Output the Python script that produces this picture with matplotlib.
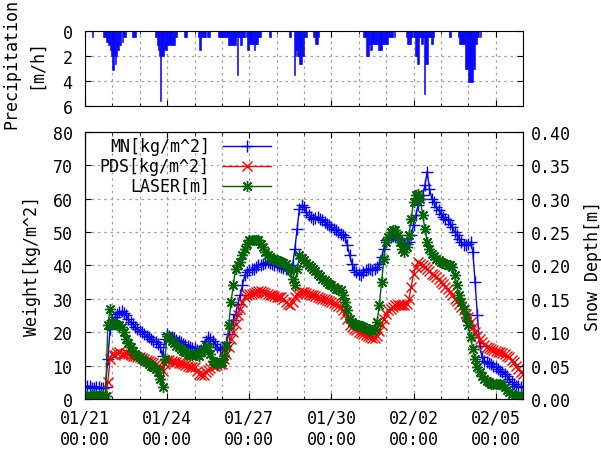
import numpy as np
import pandas as pd
import matplotlib
matplotlib.use('Agg')
import matplotlib.pyplot as plt
import matplotlib.dates as mdates
from matplotlib.lines import Line2D

plt.rcParams['font.family'] = ['DejaVu Sans Mono']
plt.rcParams['font.size'] = 11

# ---------------- data (2-hourly samples) ----------------
start = pd.Timestamp('2014-01-21 00:00')
times = pd.date_range(start, periods=193, freq='2h')

mn = [3.5, 3.9, 3.8, 3.3, 3.2, 3.7, 3.6, 3.2, 3.4, 3.6, 12.0, 21.0,
      23.5, 24.5, 25.5, 26.0, 26.3, 25.8, 25.0, 24.0, 23.0, 22.3, 21.5, 21.0,
      20.5, 20.0, 19.5, 19.0, 18.5, 18.0, 17.5, 17.0, 16.5, 15.5, 13.0, 18.0,
      19.5, 19.0, 18.5, 18.2, 17.8, 17.4, 17.0, 16.6, 16.2, 15.8, 15.5, 15.4,
      15.3, 14.8, 14.5, 14.8, 16.0, 17.5, 18.5, 18.0, 17.5, 16.5, 15.5, 15.0,
      14.8, 15.5, 17.0, 19.5, 22.0, 23.5, 25.5, 28.5, 31.0, 34.0, 37.0, 38.0,
      38.5, 38.8, 39.0, 39.5, 40.0, 40.2, 40.5, 40.8, 41.0, 40.8, 40.5, 40.2,
      40.0, 39.8, 39.5, 39.2, 39.0, 38.8, 38.5, 40.0, 45.0, 51.0, 57.0, 58.0,
      57.5, 56.0, 55.0, 54.5, 54.0, 54.3, 54.5, 54.0, 53.5, 53.0, 52.5, 52.0,
      51.5, 51.0, 50.5, 50.0, 49.5, 49.0, 48.5, 46.0, 43.0, 40.5, 38.5, 38.0,
      37.5, 37.0, 38.0, 38.5, 39.0, 38.8, 38.5, 39.0, 39.5, 40.5, 42.5, 45.0,
      47.5, 48.0, 48.5, 48.8, 48.8, 48.2, 47.5, 47.0, 46.5, 46.3, 47.0, 49.0,
      52.0, 55.0, 58.0, 60.0, 61.0, 64.0, 68.0, 63.0, 60.0, 59.0, 57.5, 56.5,
      55.5, 54.5, 54.0, 53.5, 52.5, 51.5, 50.0, 49.0, 48.0, 47.0, 46.0, 46.0,
      46.5, 47.0, 44.0, 35.0, 25.0, 16.0, 12.5, 11.5, 11.0, 10.8, 10.5, 10.0,
      9.5, 9.0, 8.5, 8.0, 7.5, 7.0, 6.0, 5.0, 4.5, 4.0, 3.8, 3.5,
      3.5]

pds = [0.3, 0.2, 0.4, 0.1, 0.3, 0.2, 0.4, 0.3, 0.3, 0.5, 5.0, 12.0,
       13.5, 13.2, 13.8, 14.0, 13.5, 13.6, 13.8, 13.5, 13.2, 13.0, 12.8, 12.6,
       12.5, 12.2, 12.0, 11.8, 11.5, 11.2, 10.8, 10.4, 10.0, 9.5, 8.5, 10.5,
       11.8, 11.7, 11.5, 11.2, 11.0, 10.9, 10.8, 10.5, 10.2, 9.8, 9.5, 9.5,
       9.5, 8.5, 7.5, 7.2, 7.2, 8.0, 8.8, 9.3, 9.8, 10.0, 10.3, 10.4,
       10.5, 12.0, 13.5, 15.5, 18.0, 20.0, 22.5, 25.0, 27.0, 29.0, 30.5, 31.0,
       31.3, 31.5, 31.8, 32.0, 32.3, 32.2, 32.0, 31.8, 31.5, 31.2, 31.0, 30.8,
       30.5, 30.5, 30.5, 30.0, 29.0, 28.5, 28.0, 29.0, 30.5, 31.5, 32.0, 32.0,
       32.0, 31.8, 31.5, 31.2, 31.0, 30.8, 30.5, 30.2, 30.0, 29.8, 29.5, 29.2,
       29.0, 28.6, 28.3, 27.9, 27.5, 26.5, 25.5, 24.0, 22.0, 21.5, 21.0, 20.6,
       20.2, 19.8, 19.5, 19.2, 18.8, 18.5, 18.3, 18.3, 19.0, 20.5, 22.0, 24.0,
       25.5, 26.5, 27.0, 27.5, 28.0, 28.0, 28.0, 28.0, 28.0, 28.5, 30.0, 33.5,
       37.5, 39.5, 41.0, 40.5, 40.0, 39.5, 39.0, 38.3, 37.5, 37.0, 36.5, 35.8,
       35.0, 34.3, 33.5, 32.8, 32.0, 31.0, 30.0, 29.3, 28.5, 27.5, 26.5, 25.5,
       24.5, 23.0, 21.5, 20.2, 19.0, 18.0, 17.0, 16.2, 15.5, 15.2, 15.0, 14.8,
       14.5, 14.2, 14.0, 13.8, 13.5, 13.0, 12.5, 11.8, 11.0, 10.0, 9.0, 8.2,
       7.5]

laser = [0.005, 0.004, 0.005, 0.0045, 0.0055, 0.0045, 0.005, 0.004, 0.0055, 0.005, 0.110, 0.135,
         0.115, 0.1125, 0.110, 0.110, 0.1075, 0.100, 0.090, 0.084, 0.0775, 0.0725, 0.0675, 0.065,
         0.0625, 0.060, 0.0575, 0.055, 0.0525, 0.050, 0.0475, 0.045, 0.040, 0.030, 0.018, 0.060,
         0.095, 0.091, 0.0875, 0.084, 0.080, 0.0775, 0.075, 0.0725, 0.070, 0.068, 0.066, 0.0665,
         0.0675, 0.0665, 0.065, 0.070, 0.075, 0.080, 0.0775, 0.0675, 0.0575, 0.055, 0.0525, 0.0535,
         0.055, 0.065, 0.080, 0.110, 0.145, 0.170, 0.195, 0.200, 0.205, 0.215, 0.225, 0.2325,
         0.2375, 0.2375, 0.2375, 0.2375, 0.2375, 0.2325, 0.2275, 0.220, 0.215, 0.2125, 0.210, 0.209,
         0.2075, 0.206, 0.205, 0.204, 0.2025, 0.1975, 0.1925, 0.180, 0.170, 0.195, 0.215, 0.2115,
         0.2075, 0.204, 0.200, 0.1975, 0.195, 0.1915, 0.1875, 0.184, 0.180, 0.1775, 0.175, 0.1725,
         0.170, 0.1675, 0.165, 0.164, 0.1625, 0.155, 0.145, 0.1325, 0.120, 0.115, 0.1125, 0.111,
         0.110, 0.109, 0.1075, 0.106, 0.105, 0.104, 0.1025, 0.105, 0.115, 0.140, 0.175, 0.210,
         0.235, 0.2425, 0.250, 0.2525, 0.2525, 0.245, 0.235, 0.225, 0.220, 0.2275, 0.245, 0.270,
         0.295, 0.305, 0.3075, 0.300, 0.275, 0.255, 0.235, 0.225, 0.2175, 0.214, 0.210, 0.2075,
         0.205, 0.204, 0.2025, 0.201, 0.200, 0.1975, 0.185, 0.170, 0.155, 0.145, 0.135, 0.1225,
         0.110, 0.0925, 0.075, 0.060, 0.0475, 0.040, 0.035, 0.030, 0.027, 0.025, 0.023, 0.022,
         0.022, 0.022, 0.022, 0.021, 0.018, 0.014, 0.010, 0.0075, 0.005, 0.0045, 0.004, 0.004,
         0.004]

precip_hours = [6,
                16, 17, 18, 19, 20, 21, 22, 23, 24, 25, 26, 27, 28, 29, 30, 31, 32, 33, 34, 35,
                41, 42, 43, 44,
                61, 62, 63, 64, 65, 66, 67, 68, 69, 70, 71, 72, 73, 74, 75, 76, 77, 78, 79, 80,
                87, 88,
                99, 100, 101, 102, 103, 104, 105,
                107, 108, 109,
                117, 118, 119, 120, 121, 122, 123, 124, 125, 126, 127, 128, 129, 130, 131,
                132, 133, 134, 135, 136, 137, 138, 139,
                141, 142, 143, 144, 145, 146, 147, 148, 149, 150, 151, 152, 153,
                161, 162,
                179, 180,
                183, 184, 185, 186, 187, 188, 189, 190, 191, 192, 193, 194,
                200, 201, 202, 203, 204,
                244, 245, 246, 247, 248, 249, 250, 251, 252, 253, 254, 255, 256, 257, 258,
                259, 260, 261, 262, 263, 264, 265, 266, 267, 268, 269, 271,
                281, 282, 283, 284, 285, 286, 287, 288, 289, 290, 291, 292, 293, 294, 295,
                296, 297, 298, 299, 300, 301, 302, 303, 304, 305,
                319, 320,
                327, 328, 329, 330, 331, 332, 333, 334, 335, 336, 337, 338, 339, 340, 341,
                342, 343, 344, 346]
precip_vals = [0.5,
               0.5, 0.5, 0.9, 0.9, 1.1, 1.1, 1.5, 2.0, 3.1, 2.0, 2.6, 2.0, 1.5, 1.5, 1.1, 1.1, 0.9, 0.5, 0.5, 0.5,
               0.5, 0.5, 0.5, 0.5,
               0.5, 0.5, 1.1, 1.5, 2.0, 5.6, 2.0, 2.0, 1.5, 1.5, 1.5, 1.1, 1.1, 1.1, 1.1, 1.1, 1.1, 1.1, 0.5, 0.5,
               0.5, 0.5,
               0.5, 1.5, 1.5, 0.5, 0.5, 0.5, 0.5,
               0.5, 0.5, 0.5,
               0.5, 0.5, 0.5, 0.5, 0.5, 0.5, 0.5, 0.5, 1.1, 1.1, 1.1, 1.1, 1.1, 1.1, 1.1,
               0.5, 3.5, 0.5, 0.5, 1.1, 1.1, 0.5, 0.5,
               0.5, 1.5, 1.5, 1.0, 1.0, 1.0, 1.0, 1.5, 1.0, 1.0, 1.0, 0.5, 0.5,
               0.5, 0.5,
               0.5, 0.5,
               3.5, 2.0, 1.5, 2.0, 2.0, 2.6, 2.6, 2.0, 2.0, 0.5, 0.5, 0.5,
               0.5, 0.5, 1.0, 1.0, 0.5,
               0.5, 0.5, 2.0, 2.0, 2.0, 1.0, 1.5, 1.5, 1.0, 1.0, 1.0, 1.0, 1.0, 1.5, 1.5,
               1.5, 1.0, 1.0, 1.0, 1.0, 1.0, 1.0, 0.5, 0.5, 0.5, 0.5, 0.5,
               0.5, 1.0, 1.0, 1.0, 1.0, 0.5, 0.5, 0.5, 2.0, 2.0, 2.6, 2.6, 0.5, 0.5, 1.0,
               0.5, 5.0, 2.6, 2.6, 2.6, 0.5, 0.5, 1.0, 1.0, 0.5,
               0.5, 0.5,
               0.5, 1.0, 1.0, 1.0, 1.0, 1.0, 3.0, 3.0, 3.0, 4.1, 4.1, 4.1, 4.1, 3.0, 3.0,
               1.0, 1.0, 0.5, 0.5]

tick_dates = ['2014-01-21', '2014-01-24', '2014-01-27', '2014-01-30', '2014-02-02', '2014-02-05']
tick_labels = ['01/21\n00:00', '01/24\n00:00', '01/27\n00:00', '01/30\n00:00', '02/02\n00:00', '02/05\n00:00']
series_labels = ['MN[kg/m^2]', 'PDS[kg/m^2]', 'LASER[m]']
series_colors = ['#0000ff', '#ff0000', '#006400']
asterisk = (8, 2, 0)
series_markers = ['+', 'x', asterisk]
series_msize = [8, 6.5, 8]

# ---------------- figure ----------------
fig = plt.figure(figsize=(6.01, 4.52), dpi=100)
W, H = 601.0, 452.0
xmin = pd.Timestamp('2014-01-21 00:00')
xmax = pd.Timestamp('2014-02-06 00:00')
grid_kw = dict(color='#a0a0a0', linestyle=(0, (2, 3)), linewidth=0.9)

# precipitation panel
axp = fig.add_axes([85 / W, 1 - 107 / H, (523 - 85) / W, (107 - 32) / H])
ptimes = start + pd.to_timedelta(precip_hours, unit='h')
axp.bar(ptimes, precip_vals, width=1.0 / 24, align='edge', color='#0000ff',
        edgecolor='#0000ff', linewidth=0.4)
axp.set_xlim(xmin, xmax)
axp.set_ylim(6, 0)
axp.set_yticks([0, 2, 4, 6])
axp.set_xticks(pd.to_datetime(tick_dates))
axp.set_xticklabels([])
axp.xaxis.set_minor_locator(mdates.DayLocator())
axp.grid(True, which='minor', axis='x', **grid_kw)
axp.grid(True, which='major', axis='x', **grid_kw)
axp.grid(True, which='major', axis='y', **grid_kw)
axp.set_axisbelow(True)
axp.tick_params(axis='both', which='both', direction='in', top=True, right=True)
axp.tick_params(axis='x', which='major', length=4)
axp.tick_params(axis='x', which='minor', length=2)
axp.tick_params(axis='y', length=4, pad=9, labelsize=12)
fig.text(24 / W, 1 - 64 / H, 'Precipitation\n[m/h]', rotation=90, ha='center', va='center',
         linespacing=1.45, multialignment='center', fontsize=12)

# main panel
ax = fig.add_axes([85 / W, 1 - 400 / H, (523 - 85) / W, (400 - 132.7) / H])
l1, = ax.plot(times, mn, color=series_colors[0], marker=series_markers[0],
              markersize=series_msize[0], linewidth=1, markeredgewidth=1)
l2, = ax.plot(times, pds, color=series_colors[1], marker=series_markers[1],
              markersize=series_msize[1], linewidth=1, markeredgewidth=1)
ax.set_xlim(xmin, xmax)
ax.set_ylim(0, 80)
ax.set_yticks(np.arange(0, 81, 10))
ax.set_xticks(pd.to_datetime(tick_dates))
ax.set_xticklabels(tick_labels)
ax.xaxis.set_minor_locator(mdates.DayLocator())
ax.grid(True, which='minor', axis='x', **grid_kw)
ax.grid(True, which='major', axis='x', **grid_kw)
ax.grid(True, which='major', axis='y', **grid_kw)
ax.set_axisbelow(True)
ax.tick_params(axis='x', which='both', direction='in', top=True, pad=7, labelsize=12)
ax.tick_params(axis='x', which='major', length=4)
ax.tick_params(axis='x', which='minor', length=2)
ax.tick_params(axis='y', direction='in', length=4, pad=9, labelsize=12)
ax.set_ylabel('Weight[kg/m^2]', labelpad=8, fontsize=12)

ax2 = ax.twinx()
l3, = ax2.plot(times, laser, color=series_colors[2], marker=series_markers[2],
               markersize=series_msize[2], linewidth=1, markeredgewidth=1)
ax2.set_ylim(0, 0.4)
ax2.set_yticks(np.arange(0, 0.401, 0.05))
ax2.yaxis.set_major_formatter(matplotlib.ticker.FormatStrFormatter('%.2f'))
ax2.tick_params(axis='y', direction='in', length=4, pad=6, labelsize=12)
ax2.set_ylabel('Snow Depth[m]', rotation=90, labelpad=9, fontsize=12)
ax2.set_xlim(xmin, xmax)

# gnuplot-style key: right-aligned text, then a line sample with its point
key_rows = [0.948, 0.873, 0.798]
for lab, col, mk, ms, yk in zip(series_labels, series_colors, series_markers, series_msize, key_rows):
    ax2.text(0.285, yk, lab, transform=ax2.transAxes, ha='right', va='center', fontsize=12)
    ax2.add_line(Line2D([0.315, 0.425], [yk, yk], transform=ax2.transAxes, color=col, linewidth=1))
    ax2.add_line(Line2D([0.37], [yk], transform=ax2.transAxes, color=col, marker=mk,
                        markersize=ms, markeredgewidth=1, linestyle='none'))

fig.savefig('out.png', dpi=100)
